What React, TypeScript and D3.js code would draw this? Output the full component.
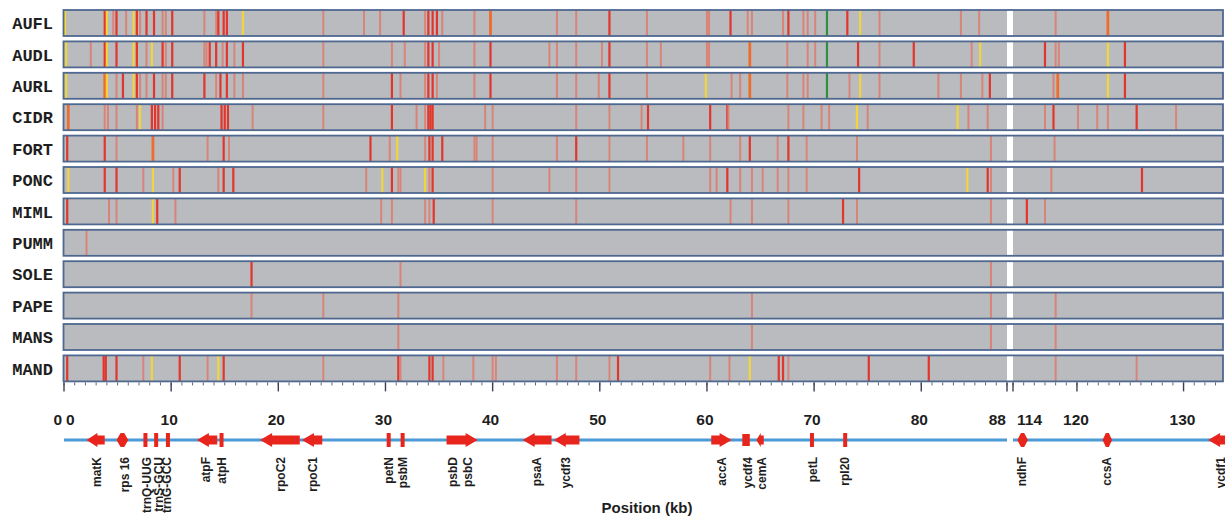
import { useRef, useEffect } from "react";
import * as d3 from "d3";

const W = 1225;
const H = 518;

// variant sites per accession: [position kb, kind]
// r = strong red, p = pale red, y = yellow, o = orange, g = green
type Snp = [number, string];

const AUFL: Snp[] = [
  [0.1, "y"], [3.8, "r"], [4.0, "y"], [4.6, "p"], [4.9, "r"], [5.8, "p"], [6.5, "y"], [6.8, "r"],
  [7.1, "p"], [7.7, "r"], [8.4, "r"], [9.2, "p"], [9.5, "p"], [10.1, "r"], [13.1, "p"], [14.2, "p"],
  [14.4, "r"], [14.9, "r"], [15.2, "r"], [16.7, "y"], [24.2, "p"], [28.0, "p"], [29.5, "p"], [31.7, "r"],
  [33.7, "p"], [34.0, "r"], [34.4, "r"], [34.8, "r"], [35.3, "p"], [38.3, "p"], [39.8, "o"], [46.0, "p"],
  [47.8, "p"], [50.9, "r"], [54.4, "p"], [60.0, "p"], [60.2, "p"], [62.2, "r"], [63.8, "p"], [64.2, "p"],
  [67.1, "p"], [67.6, "r"], [69.0, "p"], [69.4, "p"], [70.1, "p"], [71.2, "g"], [73.1, "r"], [74.3, "y"],
  [76.1, "p"], [83.7, "p"], [85.4, "p"], [118.0, "p"], [122.9, "o"],
];
const AUDL: Snp[] = [
  [0.2, "y"], [2.5, "p"], [3.8, "r"], [4.0, "y"], [4.9, "r"], [6.5, "y"], [6.8, "r"], [7.7, "p"],
  [8.2, "y"], [9.2, "r"], [9.5, "p"], [10.1, "r"], [13.1, "p"], [13.3, "p"], [13.6, "r"], [14.2, "r"],
  [14.8, "p"], [15.2, "r"], [15.9, "p"], [16.7, "r"], [24.2, "p"], [30.6, "p"], [31.8, "p"], [33.7, "p"],
  [34.0, "r"], [34.4, "r"], [35.0, "p"], [38.3, "p"], [39.8, "r"], [45.3, "p"], [46.0, "p"], [47.8, "p"],
  [50.2, "p"], [50.9, "r"], [54.4, "p"], [55.7, "p"], [60.0, "p"], [60.2, "p"], [64.0, "o"], [67.5, "p"],
  [69.4, "p"], [70.1, "p"], [71.2, "g"], [74.1, "r"], [76.1, "p"], [79.3, "r"], [84.7, "p"], [85.5, "y"],
  [117.0, "r"], [118.0, "p"], [118.3, "p"], [122.9, "y"], [124.5, "r"],
];
const AURL: Snp[] = [
  [0.2, "y"], [3.8, "o"], [4.0, "y"], [4.9, "p"], [5.5, "r"], [6.5, "y"], [6.8, "r"], [7.1, "p"],
  [7.7, "p"], [8.4, "r"], [9.2, "p"], [9.5, "p"], [10.1, "r"], [13.1, "r"], [14.2, "p"], [14.6, "r"],
  [15.2, "r"], [15.9, "p"], [16.7, "p"], [24.2, "p"], [30.6, "r"], [31.4, "p"], [33.7, "p"], [34.0, "r"],
  [34.4, "r"], [34.8, "p"], [38.3, "p"], [39.8, "r"], [46.0, "p"], [47.8, "p"], [49.9, "p"], [50.9, "r"],
  [54.4, "p"], [59.9, "y"], [62.3, "p"], [63.1, "p"], [64.0, "o"], [67.5, "p"], [69.0, "p"], [69.4, "p"],
  [71.2, "g"], [73.3, "p"], [74.3, "y"], [76.1, "p"], [81.6, "p"], [83.7, "p"], [85.7, "p"], [86.4, "r"],
  [117.8, "p"], [118.2, "o"], [122.9, "y"], [124.5, "r"],
];
const CIDR: Snp[] = [
  [0.4, "o"], [3.8, "p"], [4.1, "p"], [4.9, "p"], [6.8, "p"], [7.1, "y"], [8.2, "r"], [8.5, "r"],
  [8.8, "r"], [9.2, "p"], [14.7, "r"], [15.0, "r"], [15.3, "r"], [17.6, "p"], [24.2, "p"], [30.6, "r"],
  [32.9, "p"], [33.7, "p"], [34.0, "r"], [34.2, "r"], [34.4, "r"], [39.3, "p"], [40.0, "p"], [47.8, "p"],
  [50.9, "p"], [53.9, "p"], [54.5, "r"], [60.3, "r"], [61.9, "r"], [62.0, "p"], [67.6, "p"], [69.0, "p"],
  [70.7, "p"], [71.4, "p"], [74.0, "y"], [75.0, "p"], [83.4, "y"], [84.4, "p"], [86.2, "p"], [117.0, "p"],
  [117.8, "r"], [120.1, "p"], [121.9, "p"], [122.9, "p"], [125.6, "r"], [129.3, "p"],
];
const FORT: Snp[] = [
  [0.3, "r"], [3.8, "r"], [4.9, "p"], [8.3, "o"], [13.4, "p"], [14.9, "r"], [15.4, "p"], [28.6, "r"],
  [30.4, "p"], [31.1, "y"], [33.7, "p"], [34.1, "r"], [34.4, "r"], [35.3, "r"], [38.3, "p"], [38.5, "p"],
  [40.0, "p"], [46.0, "p"], [47.8, "r"], [50.9, "p"], [54.4, "p"], [57.8, "p"], [60.3, "p"], [63.1, "p"],
  [64.0, "r"], [66.6, "p"], [67.6, "r"], [69.3, "p"], [74.0, "p"], [86.5, "p"], [117.9, "p"],
];
const PONC: Snp[] = [
  [0.4, "y"], [3.8, "r"], [4.9, "r"], [7.4, "p"], [8.3, "y"], [10.2, "p"], [10.8, "r"], [14.4, "p"],
  [14.9, "r"], [15.8, "r"], [28.2, "p"], [29.7, "y"], [30.6, "r"], [31.2, "p"], [31.4, "p"], [33.7, "y"],
  [34.1, "p"], [34.4, "r"], [40.0, "p"], [45.3, "p"], [47.8, "p"], [50.9, "p"], [60.3, "p"], [60.9, "p"],
  [61.9, "r"], [63.1, "p"], [64.2, "p"], [65.2, "p"], [66.6, "p"], [67.6, "p"], [69.3, "p"], [74.2, "r"],
  [84.3, "y"], [86.2, "r"], [86.5, "p"], [117.6, "p"], [126.1, "r"],
];
const MIML: Snp[] = [
  [0.3, "r"], [4.2, "p"], [4.9, "p"], [8.3, "y"], [8.7, "r"], [10.4, "p"], [29.6, "p"], [30.6, "p"],
  [33.7, "p"], [34.1, "p"], [34.5, "r"], [40.0, "p"], [47.8, "p"], [62.2, "p"], [64.2, "p"], [67.6, "p"],
  [72.7, "r"], [74.0, "p"], [86.5, "p"], [115.3, "r"], [117.0, "p"],
];
const PUMM: Snp[] = [[2.1, "p"]];
const SOLE: Snp[] = [[17.5, "r"], [31.4, "p"], [86.5, "p"]];
const PAPE: Snp[] = [[17.5, "p"], [24.2, "p"], [31.2, "p"], [64.2, "p"], [86.5, "p"], [118.0, "p"]];
const MANS: Snp[] = [[31.2, "p"], [64.2, "p"], [86.5, "p"], [118.0, "p"]];
const MAND: Snp[] = [
  [0.3, "r"], [3.7, "r"], [3.9, "r"], [4.9, "r"], [7.4, "p"], [8.2, "y"], [10.8, "r"], [13.4, "p"],
  [14.4, "y"], [14.9, "r"], [24.2, "p"], [31.2, "r"], [31.4, "p"], [34.1, "r"], [34.4, "r"], [35.4, "p"],
  [38.2, "p"], [40.0, "p"], [40.3, "p"], [46.0, "p"], [47.8, "p"], [50.9, "p"], [51.7, "r"], [60.3, "p"],
  [62.1, "p"], [64.0, "y"], [66.7, "r"], [67.1, "r"], [67.6, "p"], [75.1, "r"], [80.7, "r"], [118.0, "p"],
  [125.6, "p"],
];

const trackNames = ["AUFL", "AUDL", "AURL", "CIDR", "FORT", "PONC", "MIML", "PUMM", "SOLE", "PAPE", "MANS", "MAND"];
const trackSnps = [AUFL, AUDL, AURL, CIDR, FORT, PONC, MIML, PUMM, SOLE, PAPE, MANS, MAND];

// broken axis: two segments
const leftDomain = [0, 88];
const rightDomain = [114, 133.7];
const leftTicks = [10, 20, 30, 40, 50, 60, 70, 80];
const rightTicks = [120, 130];

// genes: name, start, end, shape
const geneNames = ["matK", "rps16", "trnQ", "trnS", "trnG", "atpF", "atpH", "rpoC2", "rpoC1", "petN", "psbM",
  "psbDC", "psaA", "ycdf3", "accA", "ycdf4", "cemA", "petL", "rpl20", "ndhF", "ccsA", "ycdf1"];
const geneStart = [2.1, 4.9, 7.6, 8.6, 9.7, 12.4, 14.7, 18.3, 22.2, 30.3, 31.6, 35.7, 42.8, 45.7, 60.4, 63.3, 64.6, 69.8, 72.9, 114.4, 122.4, 132.3];
const geneEnd = [3.8, 6.0, 7.6, 8.6, 9.7, 14.3, 14.7, 22.0, 24.1, 30.3, 31.6, 38.6, 45.5, 48.1, 62.3, 64.0, 65.3, 69.8, 72.9, 115.4, 123.3, 134.6];
const geneShape = ["left", "hex", "bar", "bar", "bar", "left", "bar", "left", "left", "bar", "bar",
  "right", "left", "left", "right", "block", "left", "bar", "bar", "hex", "hex", "left"];

// gene labels under the line
const labelText = ["matK", "rps 16", "trnQ-UUG", "trnS-GCU", "trnG-GCC", "atpF", "atpH", "rpoC2", "rpoC1", "petN", "psbM",
  "psbD", "psbC", "psaA", "ycdf3", "accA", "ycdf4", "cemA", "petL", "rpl20", "ndhF", "ccsA", "ycdf1"];
const labelPos = [3.1, 5.7, 7.7, 8.8, 9.6, 13.2, 14.7, 20.2, 23.2, 30.3, 31.6,
  36.3, 37.7, 44.1, 46.8, 61.4, 63.8, 65.1, 69.9, 72.9, 114.8, 122.8, 133.5];

const snpColor: Record<string, string> = { r: "#e2352b", p: "#d98478", y: "#f2d43c", o: "#ee6d2e", g: "#2f9042" };
const snpWidth: Record<string, number> = { r: 2.2, p: 2, y: 2.2, o: 2.8, g: 2.2 };

export default function App() {
  const svgRef = useRef<SVGSVGElement>(null);

  useEffect(() => {
    const svg = d3.select(svgRef.current);
    svg.selectAll("*").remove();

    const xl = d3.scaleLinear().domain(leftDomain).range([64, 1007]);
    const xr = d3.scaleLinear().domain(rightDomain).range([1013, 1223]);
    const xPos = (kb: number) => (kb <= 88 ? xl(kb) : xr(kb));

    const y = d3.scaleBand().domain(trackNames).range([7.3, 384.1]).paddingInner(0.172).paddingOuter(0.086);
    const bw = y.bandwidth();
    const trackLeft = 63.5;
    const trackRight = 1223;

    const rows = svg.append("g")
      .selectAll("g")
      .data(trackNames)
      .join("g")
      .attr("transform", (d) => `translate(0,${y(d)})`);

    rows.append("rect")
      .attr("x", trackLeft)
      .attr("width", trackRight - trackLeft)
      .attr("height", bw)
      .attr("fill", "#babbbe");

    rows.each(function (name, i) {
      d3.select(this)
        .selectAll("rect.snp")
        .data(trackSnps[i])
        .join("rect")
        .attr("class", "snp")
        .attr("x", (d) => xPos(d[0]) - snpWidth[d[1]] / 2)
        .attr("width", (d) => snpWidth[d[1]])
        .attr("height", bw)
        .attr("fill", (d) => snpColor[d[1]]);
    });

    // axis break gap
    rows.append("rect")
      .attr("x", xl(88))
      .attr("width", xr(114) - xl(88))
      .attr("height", bw)
      .attr("fill", "#ffffff");

    rows.append("rect")
      .attr("x", trackLeft)
      .attr("width", trackRight - trackLeft)
      .attr("height", bw)
      .attr("fill", "none")
      .attr("stroke", "#4f6890")
      .attr("stroke-width", 1.8);

    rows.append("text")
      .attr("x", 53)
      .attr("y", bw / 2)
      .attr("dy", "0.36em")
      .attr("text-anchor", "end")
      .style("font-family", "'Liberation Mono', 'Courier New', monospace")
      .attr("font-size", "17px")
      .attr("font-weight", "bold")
      .attr("fill", "#1e1e1e")
      .text((d) => d);

    // position axis
    const axisY = (y("MAND") ?? 0) + bw + 1;
    const axisG = svg.append("g");
    const minorL = d3.range(0, 89, 1);
    const minorR = d3.range(114, 134, 1);
    axisG.selectAll("line.minor")
      .data([...minorL.map((v) => xl(v)), ...minorR.map((v) => xr(v))])
      .join("line")
      .attr("class", "minor")
      .attr("x1", (d) => d)
      .attr("x2", (d) => d)
      .attr("y1", axisY)
      .attr("y2", axisY + 3)
      .attr("stroke", "#5a6478")
      .attr("stroke-width", 1);
    axisG.selectAll("line.major")
      .data([...[0, ...leftTicks, 88].map((v) => xl(v)), ...[114, ...rightTicks].map((v) => xr(v))])
      .join("line")
      .attr("class", "major")
      .attr("x1", (d) => d)
      .attr("x2", (d) => d)
      .attr("y1", axisY)
      .attr("y2", axisY + 9)
      .attr("stroke", "#3a4050")
      .attr("stroke-width", 1.4);

    const tickFont = (sel: any) =>
      sel.style("font-family", "'Liberation Sans', Arial, sans-serif")
        .attr("font-size", "15.5px")
        .attr("font-weight", "bold")
        .attr("fill", "#1e1e1e");

    const labelY = 425;
    axisG.selectAll("text.tl")
      .data(leftTicks)
      .join("text")
      .attr("class", "tl")
      .attr("x", (d) => xl(d) - 2)
      .attr("y", labelY)
      .attr("text-anchor", "middle")
      .call(tickFont)
      .text((d) => d);
    axisG.selectAll("text.tr")
      .data(rightTicks)
      .join("text")
      .attr("class", "tr")
      .attr("x", (d) => xr(d) - 1)
      .attr("y", labelY)
      .attr("text-anchor", "middle")
      .call(tickFont)
      .text((d) => d);
    axisG.append("text").attr("x", xl(0) - 2).attr("y", labelY).attr("text-anchor", "end").call(tickFont).text("0");
    axisG.append("text").attr("x", xl(0) + 2).attr("y", labelY).attr("text-anchor", "start").call(tickFont).text("0");
    axisG.append("text").attr("x", xl(88) - 1).attr("y", labelY).attr("text-anchor", "end").call(tickFont).text("88");
    axisG.append("text").attr("x", xr(114) + 4).attr("y", labelY).attr("text-anchor", "start").call(tickFont).text("114");

    // gene map
    const gy = 440;
    const geneG = svg.append("g");
    geneG.append("line").attr("x1", xl(0)).attr("x2", xl(88)).attr("y1", gy).attr("y2", gy)
      .attr("stroke", "#4a9ad6").attr("stroke-width", 3);
    geneG.append("line").attr("x1", xr(114)).attr("x2", W).attr("y1", gy).attr("y2", gy)
      .attr("stroke", "#4a9ad6").attr("stroke-width", 3);

    const red = "#e8251d";
    const ha = 7; // half height of arrow head
    const hb = 4.6; // half height of arrow body
    geneNames.forEach((g, i) => {
      const x0 = xPos(geneStart[i]);
      const x1 = xPos(geneEnd[i]);
      const shape = geneShape[i];
      if (shape === "bar") {
        geneG.append("rect").attr("x", x0 - 2).attr("y", gy - 7).attr("width", 4).attr("height", 14).attr("fill", red);
        return;
      }
      if (shape === "block") {
        geneG.append("rect").attr("x", x0).attr("y", gy - 6).attr("width", x1 - x0).attr("height", 12).attr("fill", red);
        return;
      }
      let pts: [number, number][];
      const len = x1 - x0;
      const head = Math.min(12, len * 0.6);
      if (shape === "left") {
        pts = [[x0, gy], [x0 + head, gy - ha], [x0 + head, gy - hb], [x1, gy - hb], [x1, gy + hb], [x0 + head, gy + hb], [x0 + head, gy + ha]];
      } else if (shape === "right") {
        pts = [[x1, gy], [x1 - head, gy - ha], [x1 - head, gy - hb], [x0, gy - hb], [x0, gy + hb], [x1 - head, gy + hb], [x1 - head, gy + ha]];
      } else {
        const e = len * 0.35;
        pts = [[x0, gy], [x0 + e, gy - ha], [x1 - e, gy - ha], [x1, gy], [x1 - e, gy + ha], [x0 + e, gy + ha]];
      }
      geneG.append("path").attr("d", d3.line()(pts) + "Z").attr("fill", red).attr("data-gene", g);
    });

    geneG.selectAll("text.gl")
      .data(labelText)
      .join("text")
      .attr("class", "gl")
      .attr("transform", (d, i) => `translate(${xPos(labelPos[i])},457) rotate(-90)`)
      .attr("dy", "0.35em")
      .attr("text-anchor", "end")
      .style("font-family", "'Liberation Sans', Arial, sans-serif")
      .attr("font-size", "12px")
      .attr("font-weight", "bold")
      .attr("fill", "#1e1e1e")
      .text((d) => d);

    svg.append("text")
      .attr("x", 647)
      .attr("y", 513)
      .attr("text-anchor", "middle")
      .style("font-family", "'Liberation Sans', Arial, sans-serif")
      .attr("font-size", "15px")
      .attr("font-weight", "bold")
      .attr("fill", "#1e1e1e")
      .text("Position (kb)");
  }, []);

  return (
    <svg
      ref={svgRef}
      width={W}
      height={H}
      style={{ position: "absolute", left: 0, top: 0, background: "#ffffff" }}
    />
  );
}
